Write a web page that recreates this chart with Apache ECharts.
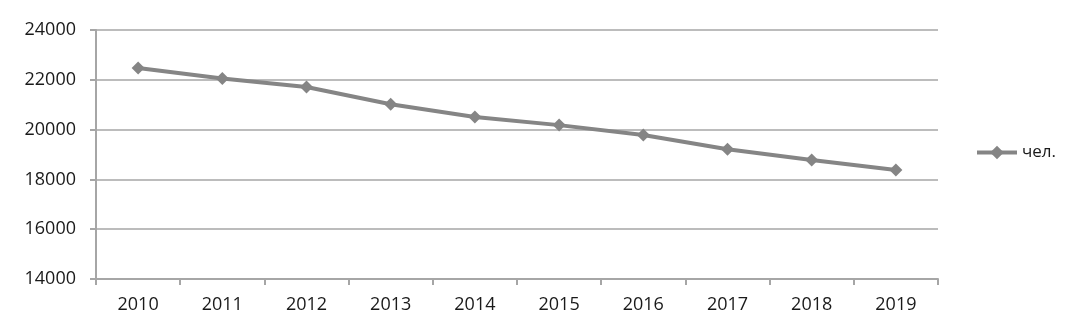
<!DOCTYPE html>
<html>
<head>
<meta charset="utf-8">
<script src="https://cdn.jsdelivr.net/npm/echarts@6/dist/echarts.min.js"></script>
<style>
  html, body { margin: 0; padding: 0; background: #fff; }
  #chart { width: 1070px; height: 333px; }
</style>
</head>
<body>
<div id="chart"></div>
<script>
var years = ['2010', '2011', '2012', '2013', '2014', '2015', '2016', '2017', '2018', '2019'];
var people = [22470, 22050, 21710, 21020, 20510, 20180, 19780, 19210, 18780, 18380];
var seriesName = 'чел.';

var font = '"Open Sans", "Liberation Sans", sans-serif';
var axisGray = '#a6a6a6';
var textColor = '#1a1a1a';

var myChart = echarts.init(document.getElementById('chart'), null, { renderer: 'canvas' });
myChart.setOption({
    animation: false,
    backgroundColor: '#fff',
    grid: { left: 96, right: 132, top: 30, bottom: 54 },
    legend: {
        left: 975,
        top: 144,
        padding: 0,
        itemWidth: 40,
        itemHeight: 17,
        lineStyle: { width: 4 },
        textStyle: { fontFamily: font, fontSize: 17, color: textColor },
        data: [seriesName]
    },
    xAxis: {
        type: 'category',
        data: years,
        boundaryGap: true,
        axisLine: { lineStyle: { color: axisGray, width: 2 } },
        axisTick: { show: true, length: 6, lineStyle: { color: axisGray, width: 2 } },
        axisLabel: { fontFamily: font, fontSize: 18, color: textColor, margin: 17 }
    },
    yAxis: {
        type: 'value',
        min: 14000,
        max: 24000,
        interval: 2000,
        axisLine: { show: true, lineStyle: { color: axisGray, width: 2 } },
        axisTick: { show: true, length: 6, lineStyle: { color: axisGray, width: 2 } },
        axisLabel: {
            fontFamily: font, fontSize: 18, color: textColor, margin: 20,
            formatter: function (v) { return String(v); }
        },
        splitLine: { lineStyle: { color: axisGray, width: 1.5 } }
    },
    series: [{
        name: seriesName,
        type: 'line',
        data: people,
        symbol: 'diamond',
        symbolSize: 13,
        itemStyle: { color: '#858585' },
        lineStyle: { color: '#858585', width: 4 }
    }]
});
</script>
</body>
</html>
